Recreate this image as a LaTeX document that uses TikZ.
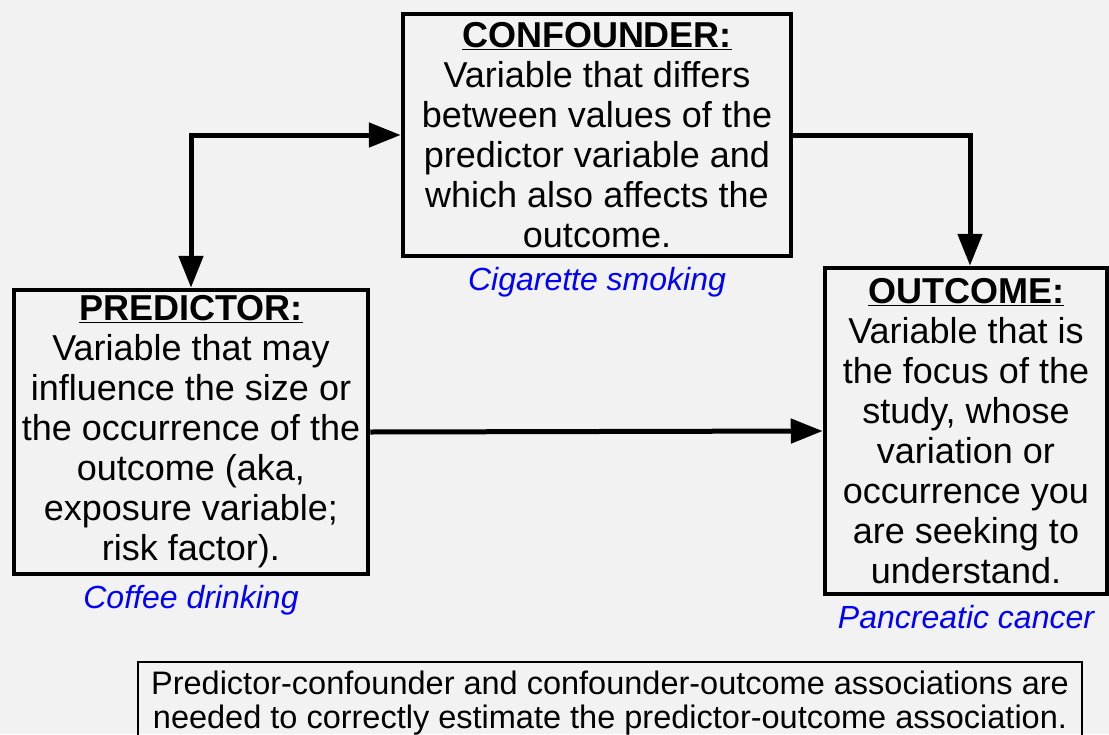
\documentclass[tikz,border=0pt]{standalone}
\usepackage{fontspec}
\setmainfont{Liberation Sans}
\usetikzlibrary{positioning,arrows.meta}
\definecolor{bggray}{HTML}{F2F2F2}
\definecolor{exblue}{HTML}{0000FF}
\tikzset{
  varbox/.style={draw, line width=4.5pt, align=center, inner sep=0pt,
    font=\fontsize{36}{40}\selectfont},
  exlabel/.style={text=exblue, inner sep=0pt, font=\fontsize{32}{36}\selectfont\itshape},
  link/.style={line width=5pt, -{Triangle[length=32pt,width=24pt]}},
}
\begin{document}
\begin{tikzpicture}[x=1pt,y=-1pt]
        \fill[bggray] (0,0) rectangle (1109,734);
        \useasboundingbox (0,0) rectangle (1109,734);

        % the three variables
        \node[varbox, minimum width=388pt, minimum height=242pt] (conf) at (597,135)
          {\underline{\textbf{CONFOUNDER:}}\\ Variable that differs\\ between values of the\\
           predictor variable and\\ which also affects the\\ outcome.};
        \node[varbox, minimum width=354pt, minimum height=284pt] (pred) at (191,432)
          {\underline{\textbf{PREDICTOR:}}\\ Variable that may\\ influence the size or\\
           the occurrence of the\\ outcome (aka,\\ exposure variable;\\ risk factor).};
        \node[varbox, minimum width=282pt, minimum height=326pt] (out) at (966,431)
          {\underline{\textbf{OUTCOME:}}\\ Variable that is\\ the focus of the\\ study, whose\\
           variation or\\ occurrence you\\ are seeking to\\ understand.};

        % examples
        \node[exlabel, below=9pt of conf] (smoke) {Cigarette smoking};
        \node[exlabel, below=9pt of pred] (coffee) {Coffee drinking};
        \node[exlabel, below=9pt of out] (cancer) {Pancreatic cancer};

        % arrows
        \draw[link, {Triangle[length=32pt,width=24pt]}-{Triangle[length=32pt,width=24pt]}] (pred.north) |- (conf.west);
        \draw[link] (conf.east) -| ([xshift=4pt]out.north);
        \draw[link] (pred.east) -- (out.west);

        % note
        \node[draw, line width=1.5pt, minimum width=944pt, anchor=north, align=center,
          inner xsep=0pt, inner ysep=9pt, font=\fontsize{32.5}{34}\selectfont] (note) at (610,661)
          {Predictor-confounder and confounder-outcome associations are\\
           needed to correctly estimate the predictor-outcome association.};
\end{tikzpicture}
\end{document}
